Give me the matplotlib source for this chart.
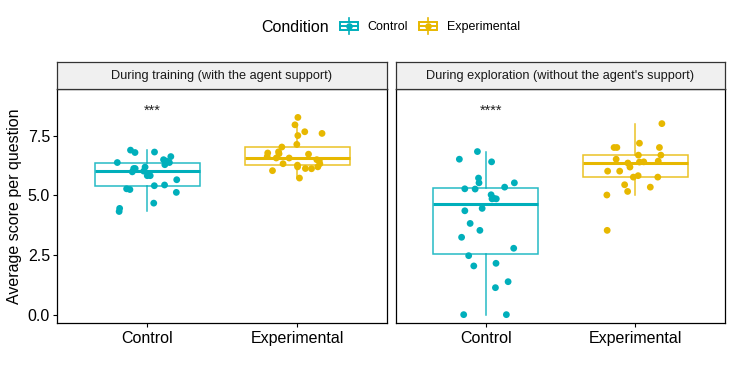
import numpy as np
import matplotlib
matplotlib.use("Agg")
import matplotlib.pyplot as plt
from matplotlib.legend_handler import HandlerBase
from matplotlib.lines import Line2D
from matplotlib.patches import Rectangle

plt.rcParams['font.family'] = ['Liberation Sans', 'DejaVu Sans']

# ---------------- data ----------------
categories = ["Control", "Experimental"]
facets = ["During training (with the agent support)",
          "During exploration (without the agent's support)"]
signif_labels = ["***", "****"]

train_control = [6.81, 6.62, 6.49, 6.89, 6.79, 6.37, 6.37, 6.43, 6.28, 6.18,
                 6.12, 6.12, 5.98, 6.01, 5.82, 5.82, 5.65, 5.43, 5.40, 5.12,
                 5.24, 5.27, 4.67, 4.45, 4.32]
train_experimental = [8.26, 7.95, 7.59, 7.66, 7.50, 7.13, 7.02, 6.77, 6.82, 6.72,
                      6.74, 6.56, 6.62, 6.49, 6.56, 6.32, 6.32, 6.19, 6.19, 6.12,
                      6.11, 6.03, 5.72, 6.26, 6.45]
explore_control = [6.83, 6.40, 6.51, 5.52, 5.26, 5.27, 5.34, 5.72, 5.52, 5.02,
                   4.85, 4.87, 4.85, 4.35, 4.45, 3.82, 3.53, 3.24, 2.78, 2.47,
                   2.15, 2.04, 1.38, 1.13, 0.0, 0.0]
explore_experimental = [8.00, 7.00, 7.18, 7.00, 7.00, 6.68, 6.68, 6.51, 6.43, 6.40,
                        6.39, 6.35, 6.18, 6.01, 6.01, 5.76, 5.76, 5.82, 5.44, 5.34,
                        5.01, 5.16, 3.53]

yticks = [0.0, 2.5, 5.0, 7.5]
colors = {"Control": "#00AFBB", "Experimental": "#E7B800"}

panels = [
    (facets[0], [train_control, train_experimental], signif_labels[0]),
    (facets[1], [explore_control, explore_experimental], signif_labels[1]),
]

# ---------------- figure ----------------
W, H = 733, 375
fig = plt.figure(figsize=(W / 100, H / 100), dpi=100)

panel_px = [(57, 387), (396, 725)]
top_px, bot_px = 89, 323
strip_top = 62

rng = np.random.default_rng(7)

axes = []
for i, ((x0, x1), (title, groups, sig)) in enumerate(zip(panel_px, panels)):
    ax = fig.add_axes([x0 / W, 1 - bot_px / H, (x1 - x0) / W, (bot_px - top_px) / H])
    axes.append(ax)
    for j, (cat, vals) in enumerate(zip(categories, groups)):
        pos = j + 1
        col = colors[cat]
        ax.boxplot([vals], positions=[pos], widths=0.7, showfliers=False,
                   whis=1.5, patch_artist=True,
                   boxprops=dict(facecolor="white", edgecolor=col, linewidth=1.1, alpha=0.85),
                   whiskerprops=dict(color=col, linewidth=1.1, alpha=0.85),
                   capprops=dict(linewidth=0),
                   medianprops=dict(color=col, linewidth=2.2),
                   zorder=2)
        jit = rng.uniform(-0.2, 0.2, len(vals))
        ax.scatter(pos + jit, vals, s=24, color=col, edgecolors="none", zorder=3)
    ax.text(1.035, 8.52, sig, ha="center", va="center", fontsize=10.5, color="#222222")
    ax.set_xlim(0.4, 2.6)
    ax.set_ylim(-0.35, 9.45)
    ax.set_xticks([1, 2])
    ax.set_xticklabels(categories, fontsize=11.5)
    ax.set_yticks(yticks)
    if i == 0:
        ax.set_yticklabels([f"{t:.1f}" for t in yticks], fontsize=11.5)
        ax.tick_params(axis="y", length=3, width=0.8, colors="black", pad=2)
    else:
        ax.tick_params(axis="y", length=0, labelleft=False)
    ax.tick_params(axis="x", length=3, width=0.8, colors="black", pad=3)
    for sp in ax.spines.values():
        sp.set_linewidth(0.9)
        sp.set_color("black")

    # strip
    sax = fig.add_axes([x0 / W, 1 - top_px / H, (x1 - x0) / W, (top_px - strip_top) / H])
    sax.set_xticks([]); sax.set_yticks([])
    sax.set_facecolor("#F0F0F0")
    for sp in sax.spines.values():
        sp.set_linewidth(0.9)
        sp.set_color("#333333")
    sax.text(0.5, 0.5, title, ha="center", va="center", fontsize=9.2,
             transform=sax.transAxes, color="#1A1A1A")

fig.text(15 / W, 1 - 206 / H, "Average score per question", rotation=90,
         ha="center", va="center", fontsize=11.5)


# ---------------- legend ----------------
class BoxHandler(HandlerBase):
    def create_artists(self, legend, orig_handle, xdescent, ydescent,
                       width, height, fontsize, trans):
        col = orig_handle.get_color()
        cx = width / 2 - xdescent
        cy = height / 2 - ydescent
        bw, bh = width, height * 0.5
        arts = []
        arts.append(Line2D([cx, cx], [cy - height * 0.5, cy + height * 0.5],
                           color=col, lw=1.2, transform=trans))
        arts.append(Rectangle((cx - bw / 2, cy - bh / 2), bw, bh, facecolor="white",
                              edgecolor=col, lw=1.4, transform=trans))
        arts.append(Line2D([cx - bw / 2, cx + bw / 2], [cy, cy], color=col,
                           lw=1.4, transform=trans))
        arts.append(Line2D([cx], [cy], marker="o", markersize=4.8, color=col,
                           markeredgewidth=0, transform=trans))
        return arts


handles = [Line2D([], [], color=colors[c]) for c in categories]
fig.text(261 / W, 1 - 27 / H, "Condition", ha="left", va="center", fontsize=11.5)
fig.legend(handles, categories, handler_map={Line2D: BoxHandler()},
           loc="center", bbox_to_anchor=(430 / W, 1 - 26 / H), ncol=2,
           frameon=False, fontsize=9, handlelength=1.44, handleheight=1.6,
           handletextpad=0.8, columnspacing=0.9)

fig.savefig("out.png", dpi=100)
